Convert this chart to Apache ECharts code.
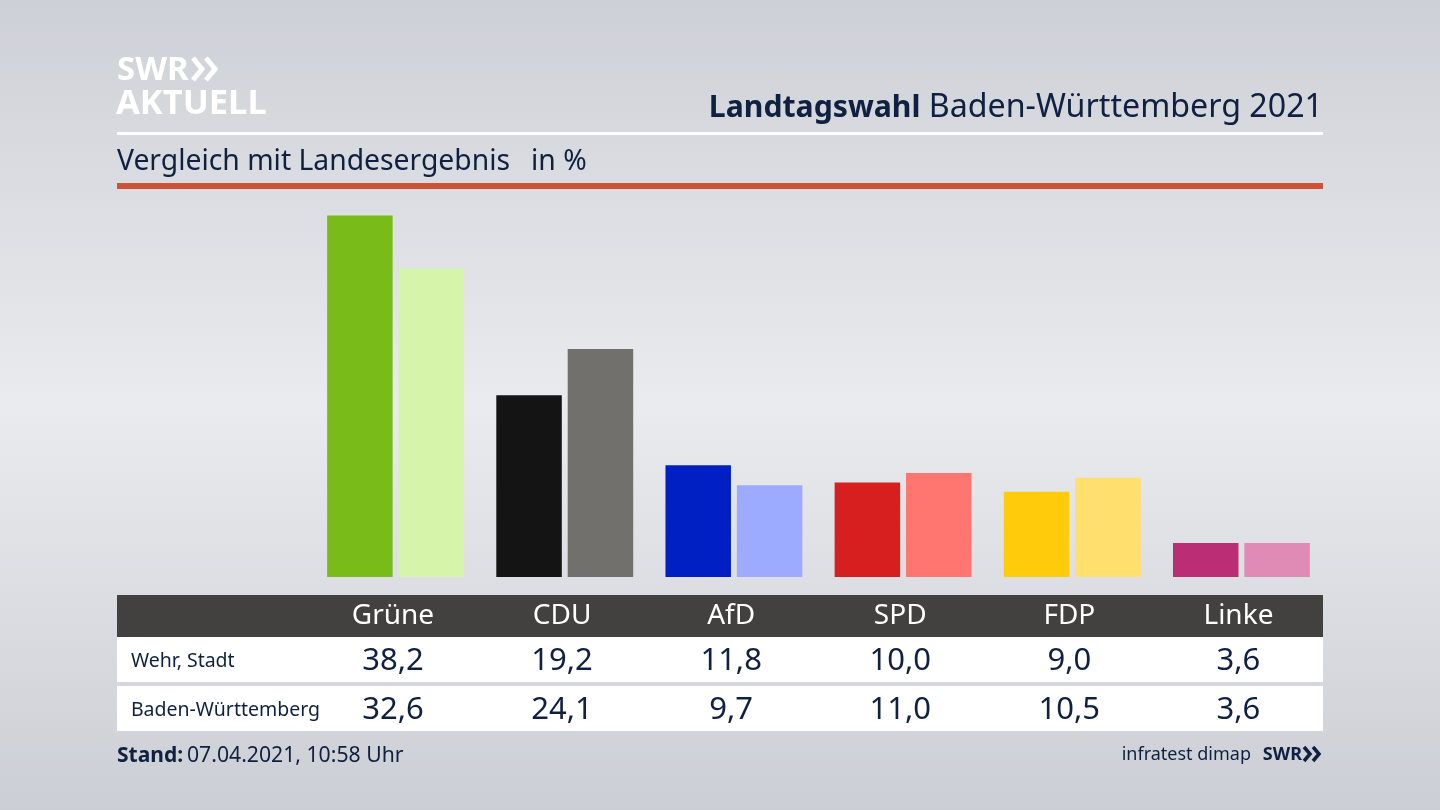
<!DOCTYPE html>
<html>
<head>
<meta charset="utf-8">
<style>
html,body{margin:0;padding:0;width:1440px;height:810px;overflow:hidden}
#chart{width:1440px;height:810px}
</style>
<script src="https://cdn.jsdelivr.net/npm/echarts@6/dist/echarts.min.js"></script>
</head>
<body>
<div id="chart"></div>
<script>
var parties = ['Grüne', 'CDU', 'AfD', 'SPD', 'FDP', 'Linke'];
var rows = ['Baden-Württemberg', 'Wehr, Stadt'];
var wehr = [38.2, 19.2, 11.8, 10.0, 9.0, 3.6];
var land = [32.6, 24.1, 9.7, 11.0, 10.5, 3.6];
var wehrColors = ['#79bc19', '#141414', '#0020c4', '#d71f1f', '#ffcb0a', '#bb2d74'];
var landColors = ['#d6f5ab', '#72706d', '#9cabff', '#ff7570', '#ffe06f', '#e08ab6'];

var FONT = '"Noto Sans", sans-serif';
var NAVY = '#0f2040';

function barData(values, colors) {
  return values.map(function (v, i) {
    return {value: v, itemStyle: {color: colors[i]}};
  });
}
function tableData(values, row) {
  return values.map(function (v, i) {
    return [i, row, v];
  });
}
function comma(p) {
  return p.value[2].toFixed(1).replace('.', ',');
}
function tableSeries(values, row) {
  return {
    type: 'scatter',
    xAxisIndex: 1,
    yAxisIndex: 1,
    symbolSize: 0,
    silent: true,
    itemStyle: {opacity: 1},
    data: tableData(values, row),
    label: {
      show: true,
      position: 'inside',
      formatter: comma,
      fontFamily: FONT,
      fontSize: 31,
      color: NAVY,
      opacity: 1
    }
  };
}
function rect(x, y, w, h, fill) {
  return {type: 'rect', z: 0, silent: true, shape: {x: x, y: y, width: w, height: h}, style: {fill: fill}};
}
function text(x, y, str, size, color, weight, align) {
  return {
    type: 'text', z: 1, silent: true, x: x, y: y,
    style: {text: str, fill: color, fontFamily: FONT, fontSize: size, fontWeight: weight || 'normal',
      align: align || 'left', verticalAlign: 'middle'}
  };
}
// the two chevrons of the SWR logo
function chevron(points, color, width) {
  return {
    type: 'polyline', z: 1, silent: true, shape: {points: points},
    style: {fill: null, stroke: color, lineWidth: width}
  };
}

var chart = echarts.init(document.getElementById('chart'));
var option = {
  animation: false,
  backgroundColor: {
    type: 'linear', x: 0, y: 0, x2: 0, y2: 1,
    colorStops: [
      {offset: 0, color: '#cdd0d6'},
      {offset: 0.5, color: '#e9ebee'},
      {offset: 1, color: '#cbced4'}
    ]
  },
  grid: [
    {left: 311, top: 198.5, width: 1015, height: 378.5},
    {left: 308.4, top: 637, width: 1014.6, height: 98}
  ],
  xAxis: [
    {type: 'category', gridIndex: 0, data: parties, show: false},
    {
      type: 'category', gridIndex: 1, data: parties, position: 'top',
      axisLine: {show: false}, axisTick: {show: false},
      axisLabel: {fontFamily: FONT, fontSize: 28, color: '#ffffff', margin: 7}
    }
  ],
  yAxis: [
    {type: 'value', gridIndex: 0, min: 0, max: 40, show: false},
    {
      type: 'category', gridIndex: 1, data: rows,
      axisLine: {show: false}, axisTick: {show: false},
      axisLabel: {fontFamily: FONT, fontSize: 19.5, color: NAVY, align: 'left', margin: 177.5}
    }
  ],
  series: [
    {type: 'bar', xAxisIndex: 0, yAxisIndex: 0, barWidth: 65.5, barGap: '9%', silent: true, data: barData(wehr, wehrColors)},
    {type: 'bar', xAxisIndex: 0, yAxisIndex: 0, barWidth: 65.5, barGap: '9%', silent: true, data: barData(land, landColors)},
    tableSeries(wehr, 1),
    tableSeries(land, 0)
  ],
  graphic: [
    rect(117, 132, 1206, 3, '#ffffff'),
    rect(117, 183, 1206, 6, '#cc5238'),
    rect(117, 595, 1206, 42, '#424140'),
    rect(117, 637, 1206, 45, '#ffffff'),
    rect(117, 686, 1206, 45, '#ffffff'),
    text(117, 71, 'SWR', 33, '#ffffff', 'bold'),
    chevron([[193, 58], [202, 69], [193, 80]], '#ffffff', 5),
    chevron([[206, 58], [215, 69], [206, 80]], '#ffffff', 5),
    text(116, 104, 'AKTUELL', 34.5, '#ffffff', 'bold'),
    text(1323, 108, '{b|Landtagswahl} Baden-Württemberg 2021', 32.2, NAVY, 'normal', 'right'),
    text(117, 162, 'Vergleich mit Landesergebnis', 28.3, NAVY),
    text(531, 162, 'in %', 28.3, NAVY),
    text(117, 756, 'Stand:', 21, NAVY, 'bold'),
    text(187, 756, '07.04.2021, 10:58 Uhr', 21.2, NAVY),
    text(1251, 755, 'infratest dimap', 18, NAVY, 'normal', 'right'),
    text(1302, 755, 'SWR', 18, NAVY, 'bold', 'right'),
    chevron([[1304, 747], [1310, 754], [1304, 761]], NAVY, 3.5),
    chevron([[1313, 747], [1319, 754], [1313, 761]], NAVY, 3.5)
  ]
};
option.graphic[9].style.rich = {
  b: {fontFamily: FONT, fontSize: 30.2, fontWeight: 'bold', fill: NAVY}
};
chart.setOption(option);
</script>
</body>
</html>
